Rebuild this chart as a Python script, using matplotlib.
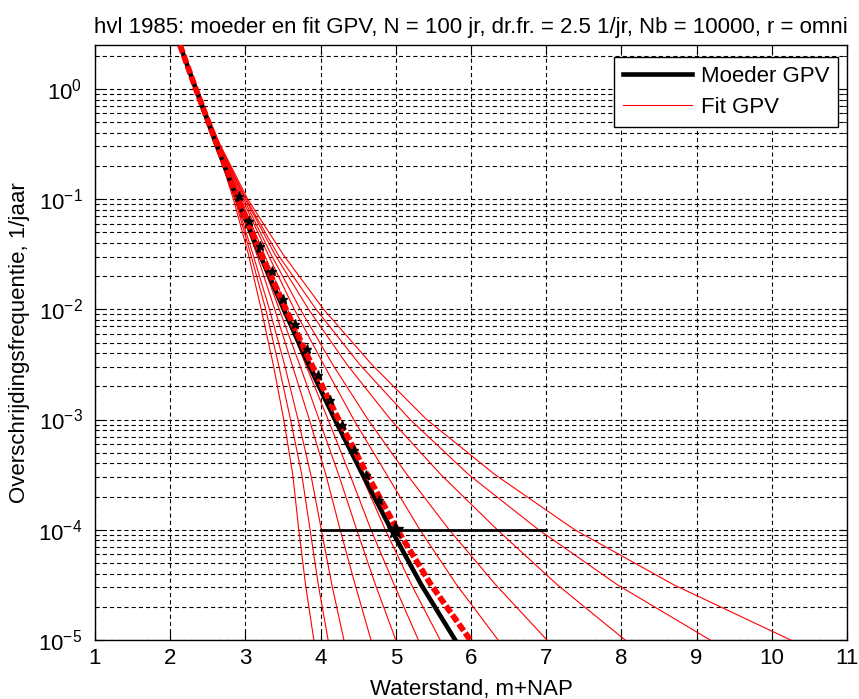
import matplotlib
matplotlib.use("Agg")
import matplotlib.pyplot as plt
from matplotlib.ticker import LogLocator, NullFormatter

plt.rcParams['font.family'] = ['Liberation Sans', 'DejaVu Sans']
plt.rcParams['mathtext.fontset'] = 'custom'
plt.rcParams['mathtext.rm'] = 'Liberation Sans'
plt.rcParams['mathtext.it'] = 'Liberation Sans:italic'
plt.rcParams['mathtext.bf'] = 'Liberation Sans:bold'
plt.rcParams['lines.scale_dashes'] = False

title = "hvl 1985: moeder en fit GPV, N = 100 jr, dr.fr. = 2.5 1/jr, Nb = 10000, r = omni"
xlabel = "Waterstand, m+NAP"
ylabel = "Overschrijdingsfrequentie, 1/jaar"

# frequency levels (1/jaar) at which curve positions were read
freq_levels = [2.5, 1.0, 0.316, 0.1, 0.0316, 0.01, 0.00316, 0.001,
               3.16e-4, 1e-4, 3.16e-5, 1e-5]

# thin red bootstrap fits: water level (m+NAP) at each frequency level
fit_curves = [
    [2.13, 2.36, 2.61, 2.84, 3.04, 3.21, 3.37, 3.51, 3.63, 3.71, 3.80, 3.91],
    [2.13, 2.36, 2.62, 2.86, 3.07, 3.27, 3.44, 3.60, 3.75, 3.86, 3.97, 4.10],
    [2.13, 2.36, 2.63, 2.87, 3.10, 3.32, 3.52, 3.70, 3.87, 4.01, 4.15, 4.31],
    [2.13, 2.36, 2.63, 2.89, 3.15, 3.39, 3.62, 3.85, 4.07, 4.26, 4.46, 4.67],
    [2.13, 2.35, 2.63, 2.91, 3.18, 3.45, 3.72, 3.98, 4.24, 4.48, 4.73, 5.00],
    [2.13, 2.36, 2.64, 2.93, 3.22, 3.51, 3.80, 4.10, 4.39, 4.67, 4.98, 5.30],
    [2.13, 2.36, 2.65, 2.94, 3.25, 3.56, 3.88, 4.20, 4.54, 4.86, 5.21, 5.59],
    [2.13, 2.35, 2.65, 2.96, 3.30, 3.65, 4.04, 4.44, 4.88, 5.32, 5.81, 6.36],
    [2.13, 2.35, 2.65, 2.98, 3.34, 3.73, 4.16, 4.63, 5.15, 5.71, 6.33, 7.01],
    [2.13, 2.35, 2.65, 3.00, 3.39, 3.84, 4.35, 4.93, 5.60, 6.35, 7.15, 8.05],
    [2.13, 2.34, 2.65, 3.01, 3.43, 3.94, 4.52, 5.19, 5.97, 6.90, 7.95, 9.18],
    [2.13, 2.34, 2.66, 3.03, 3.50, 4.04, 4.68, 5.41, 6.32, 7.38, 8.70, 10.25],
]

# mother GPV (thick black)
mother_x = [2.13, 2.34, 2.61, 2.89, 3.19, 3.51, 3.84, 4.19, 4.56, 4.94, 5.34, 5.79]
# mean of fits (thick dashed red)
meanfit_x = [2.13, 2.34, 2.62, 2.90, 3.21, 3.54, 3.88, 4.24, 4.62, 5.02, 5.47, 5.99]

# black star markers along the curves
star_x = [2.92, 3.05, 3.19, 3.35, 3.50, 3.66, 3.82, 3.97, 4.13, 4.28, 4.44, 4.61, 4.77]
star_y = [0.107, 0.0635, 0.0377, 0.0223, 0.01233, 0.00731, 0.00432, 0.00256,
          0.00152, 9.0e-4, 5.33e-4, 3.16e-4, 1.87e-4]

# 1e-4 level estimate with its spread
ci_x = [4.0, 7.0]
ci_y = [1e-4, 1e-4]
est_x = [4.99]
est_y = [1e-4]

FS = 16

fig = plt.figure(figsize=(8.59, 6.99), dpi=100)
ax = fig.add_axes([95/859, 1-640/699, (847-95)/859, (640-45)/699])

for i, xs in enumerate(fit_curves):
    ax.plot(xs, freq_levels, color='red', lw=0.8, label='Fit GPV' if i == 0 else None, zorder=3)

ax.plot(mother_x, freq_levels, color='black', lw=3.3, label='Moeder GPV', zorder=4)
ax.plot(meanfit_x, freq_levels, color='red', lw=4.2, ls=(0, (6, 2)), zorder=5)
ax.plot(star_x, star_y, ls='none', marker='*', color='black', ms=6.5, zorder=6)
ax.plot(ci_x, ci_y, color='black', lw=2, zorder=6)
ax.plot(est_x, est_y, ls='none', marker='*', color='black', ms=12, zorder=7)

ax.set_yscale('log')
ax.set_xlim(1, 11)
ax.set_ylim(1e-5, 2.5)
ax.set_xticks(range(1, 12))
ax.yaxis.set_major_locator(LogLocator(base=10, numticks=10))
ax.yaxis.set_minor_locator(LogLocator(base=10, subs=range(2, 10), numticks=20))
ax.yaxis.set_minor_formatter(NullFormatter())

ax.grid(True, which='major', axis='both', color='black', lw=0.8, ls=(0, (3.0, 2.2)))
ax.grid(True, which='minor', axis='y', color='black', lw=0.8, ls=(0, (3.0, 2.2)))
ax.set_axisbelow(True)

ax.tick_params(which='both', direction='in', top=True, right=True, labelsize=FS)
ax.tick_params(which='major', length=6)
ax.tick_params(which='minor', length=3)
ax.tick_params(axis='x', which='major', pad=6)
ax.tick_params(axis='y', which='major', pad=9)
for s in ax.spines.values():
    s.set_linewidth(1.0)

ax.set_title(title, fontsize=FS, pad=9)
ax.set_xlabel(xlabel, fontsize=FS, labelpad=7)
ax.set_ylabel(ylabel, fontsize=FS, labelpad=6)

handles, labels = ax.get_legend_handles_labels()
order = [labels.index('Moeder GPV'), labels.index('Fit GPV')]
leg = ax.legend([handles[i] for i in order], [labels[i] for i in order],
                loc='upper right', fontsize=FS, fancybox=False, framealpha=1,
                edgecolor='black', handlelength=3.1, handletextpad=0.4,
                borderpad=0.4, labelspacing=0.45, borderaxespad=0,
                bbox_to_anchor=(0.988, 0.98))
leg.get_frame().set_linewidth(1.0)

fig.savefig('out.png', dpi=100)
